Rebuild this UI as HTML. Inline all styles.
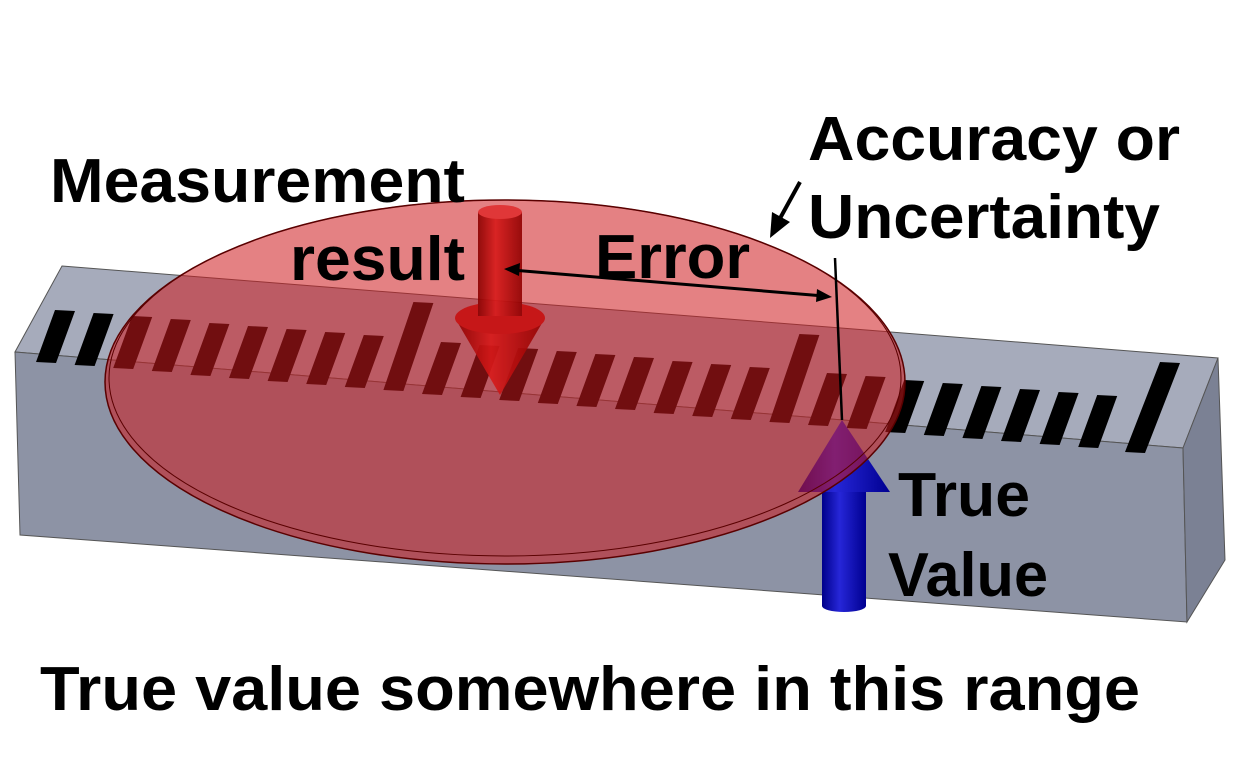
<!DOCTYPE html>
<html><head><meta charset="utf-8"><style>body{margin:0;background:#fff}svg{display:block}text{font-family:"Liberation Sans",Arial,sans-serif;font-weight:bold;fill:#000}</style></head><body>
<svg width="1258" height="766" viewBox="0 0 1258 766">
<defs>
<linearGradient id="rc" x1="0" x2="1"><stop offset="0" stop-color="#8a0000"/><stop offset=".4" stop-color="#d81a1a"/><stop offset="1" stop-color="#900000"/></linearGradient>
<linearGradient id="bc" x1="0" x2="1"><stop offset="0" stop-color="#00008a"/><stop offset=".4" stop-color="#2626d8"/><stop offset="1" stop-color="#000090"/></linearGradient>
</defs>
<polygon points="62,266 1218,358 1183,448 15,352" fill="#a6abbb" stroke="#555" stroke-width="1"/>
<polygon points="15,352 1183,448 1187,622 20,535" fill="#8d93a5" stroke="#555" stroke-width="1"/>
<polygon points="1183,448 1218,358 1225,560 1187,622" fill="#7b8194" stroke="#555" stroke-width="1"/>
<path fill="#000" d="
M36,362 l20,1 l19,-52 l-20,-1z
M74.6,365 l20,1 l19,-52 l-20,-1z
M113.2,368 l20,1 l19,-52 l-20,-1z
M151.8,371 l20,1 l19,-52 l-20,-1z
M190.4,375 l20,1 l19,-52 l-20,-1z
M229,378 l20,1 l19,-52 l-20,-1z
M267.6,381 l20,1 l19,-52 l-20,-1z
M306.2,384 l20,1 l19,-52 l-20,-1z
M344.8,387 l20,1 l19,-52 l-20,-1z
M383.4,390 l20,1 l30,-88 l-20,-1z
M422,394 l20,1 l19,-52 l-20,-1z
M460.6,397 l20,1 l19,-52 l-20,-1z
M499.2,400 l20,1 l19,-52 l-20,-1z
M537.8,403 l20,1 l19,-52 l-20,-1z
M576.4,406 l20,1 l19,-52 l-20,-1z
M615,409 l20,1 l19,-52 l-20,-1z
M653.6,413 l20,1 l19,-52 l-20,-1z
M692.2,416 l20,1 l19,-52 l-20,-1z
M730.8,419 l20,1 l19,-52 l-20,-1z
M769.4,422 l20,1 l30,-88 l-20,-1z
M808,425 l20,1 l19,-52 l-20,-1z
M846.6,428 l20,1 l19,-52 l-20,-1z
M885.2,432 l20,1 l19,-52 l-20,-1z
M923.8,435 l20,1 l19,-52 l-20,-1z
M962.4,438 l20,1 l19,-52 l-20,-1z
M1001,441 l20,1 l19,-52 l-20,-1z
M1039.6,444 l20,1 l19,-52 l-20,-1z
M1078.2,447 l20,1 l19,-52 l-20,-1z
M1125,452 l20,1 l35,-90 l-20,-1z"/>
<g fill="url(#bc)">
<rect x="822" y="488" width="44" height="118"/>
<ellipse cx="844" cy="606" rx="22" ry="6"/>
<polygon points="798,492 890,492 842,420"/>
</g>
<ellipse cx="505" cy="382" rx="400" ry="182" fill="rgba(205,25,30,0.55)" stroke="#5a0000" stroke-width="1.5"/>
<ellipse cx="505" cy="378" rx="396" ry="178" fill="none" stroke="#5a0000" stroke-width="1"/>
<g fill="url(#rc)" opacity="0.9">
<rect x="478" y="212" width="44" height="100"/>
<ellipse cx="500" cy="212" rx="22" ry="7" fill="#e03030"/>
<polygon points="455,318 545,318 500,395"/>
<ellipse cx="500" cy="318" rx="45" ry="16" fill="#c81010"/>
<rect x="478" y="290" width="44" height="26"/>
</g>
<line x1="835" y1="258" x2="842" y2="420" stroke="#000" stroke-width="2.5"/>
<line x1="512" y1="270" x2="824" y2="296" stroke="#000" stroke-width="3"/>
<polygon points="504,269 520,263 519,276" fill="#000"/>
<polygon points="832,297 816,302 817,289" fill="#000"/>
<line x1="800" y1="182" x2="778" y2="222" stroke="#000" stroke-width="4"/>
<polygon points="770,238 772,212 790,222" fill="#000"/>
<text x="50" y="202" font-size="62" textLength="415" lengthAdjust="spacingAndGlyphs">Measurement</text>
<text x="290" y="280" font-size="62" textLength="175" lengthAdjust="spacingAndGlyphs">result</text>
<text x="595" y="278" font-size="62" textLength="155" lengthAdjust="spacingAndGlyphs">Error</text>
<text x="808" y="160" font-size="62" textLength="372" lengthAdjust="spacingAndGlyphs">Accuracy or</text>
<text x="808" y="238" font-size="62" textLength="352" lengthAdjust="spacingAndGlyphs">Uncertainty</text>
<text x="898" y="516" font-size="62" textLength="132" lengthAdjust="spacingAndGlyphs">True</text>
<text x="888" y="596" font-size="62" textLength="160" lengthAdjust="spacingAndGlyphs">Value</text>
<text x="40" y="710" font-size="62" textLength="1100" lengthAdjust="spacingAndGlyphs">True value somewhere in this range</text>
</svg>
</body></html>
